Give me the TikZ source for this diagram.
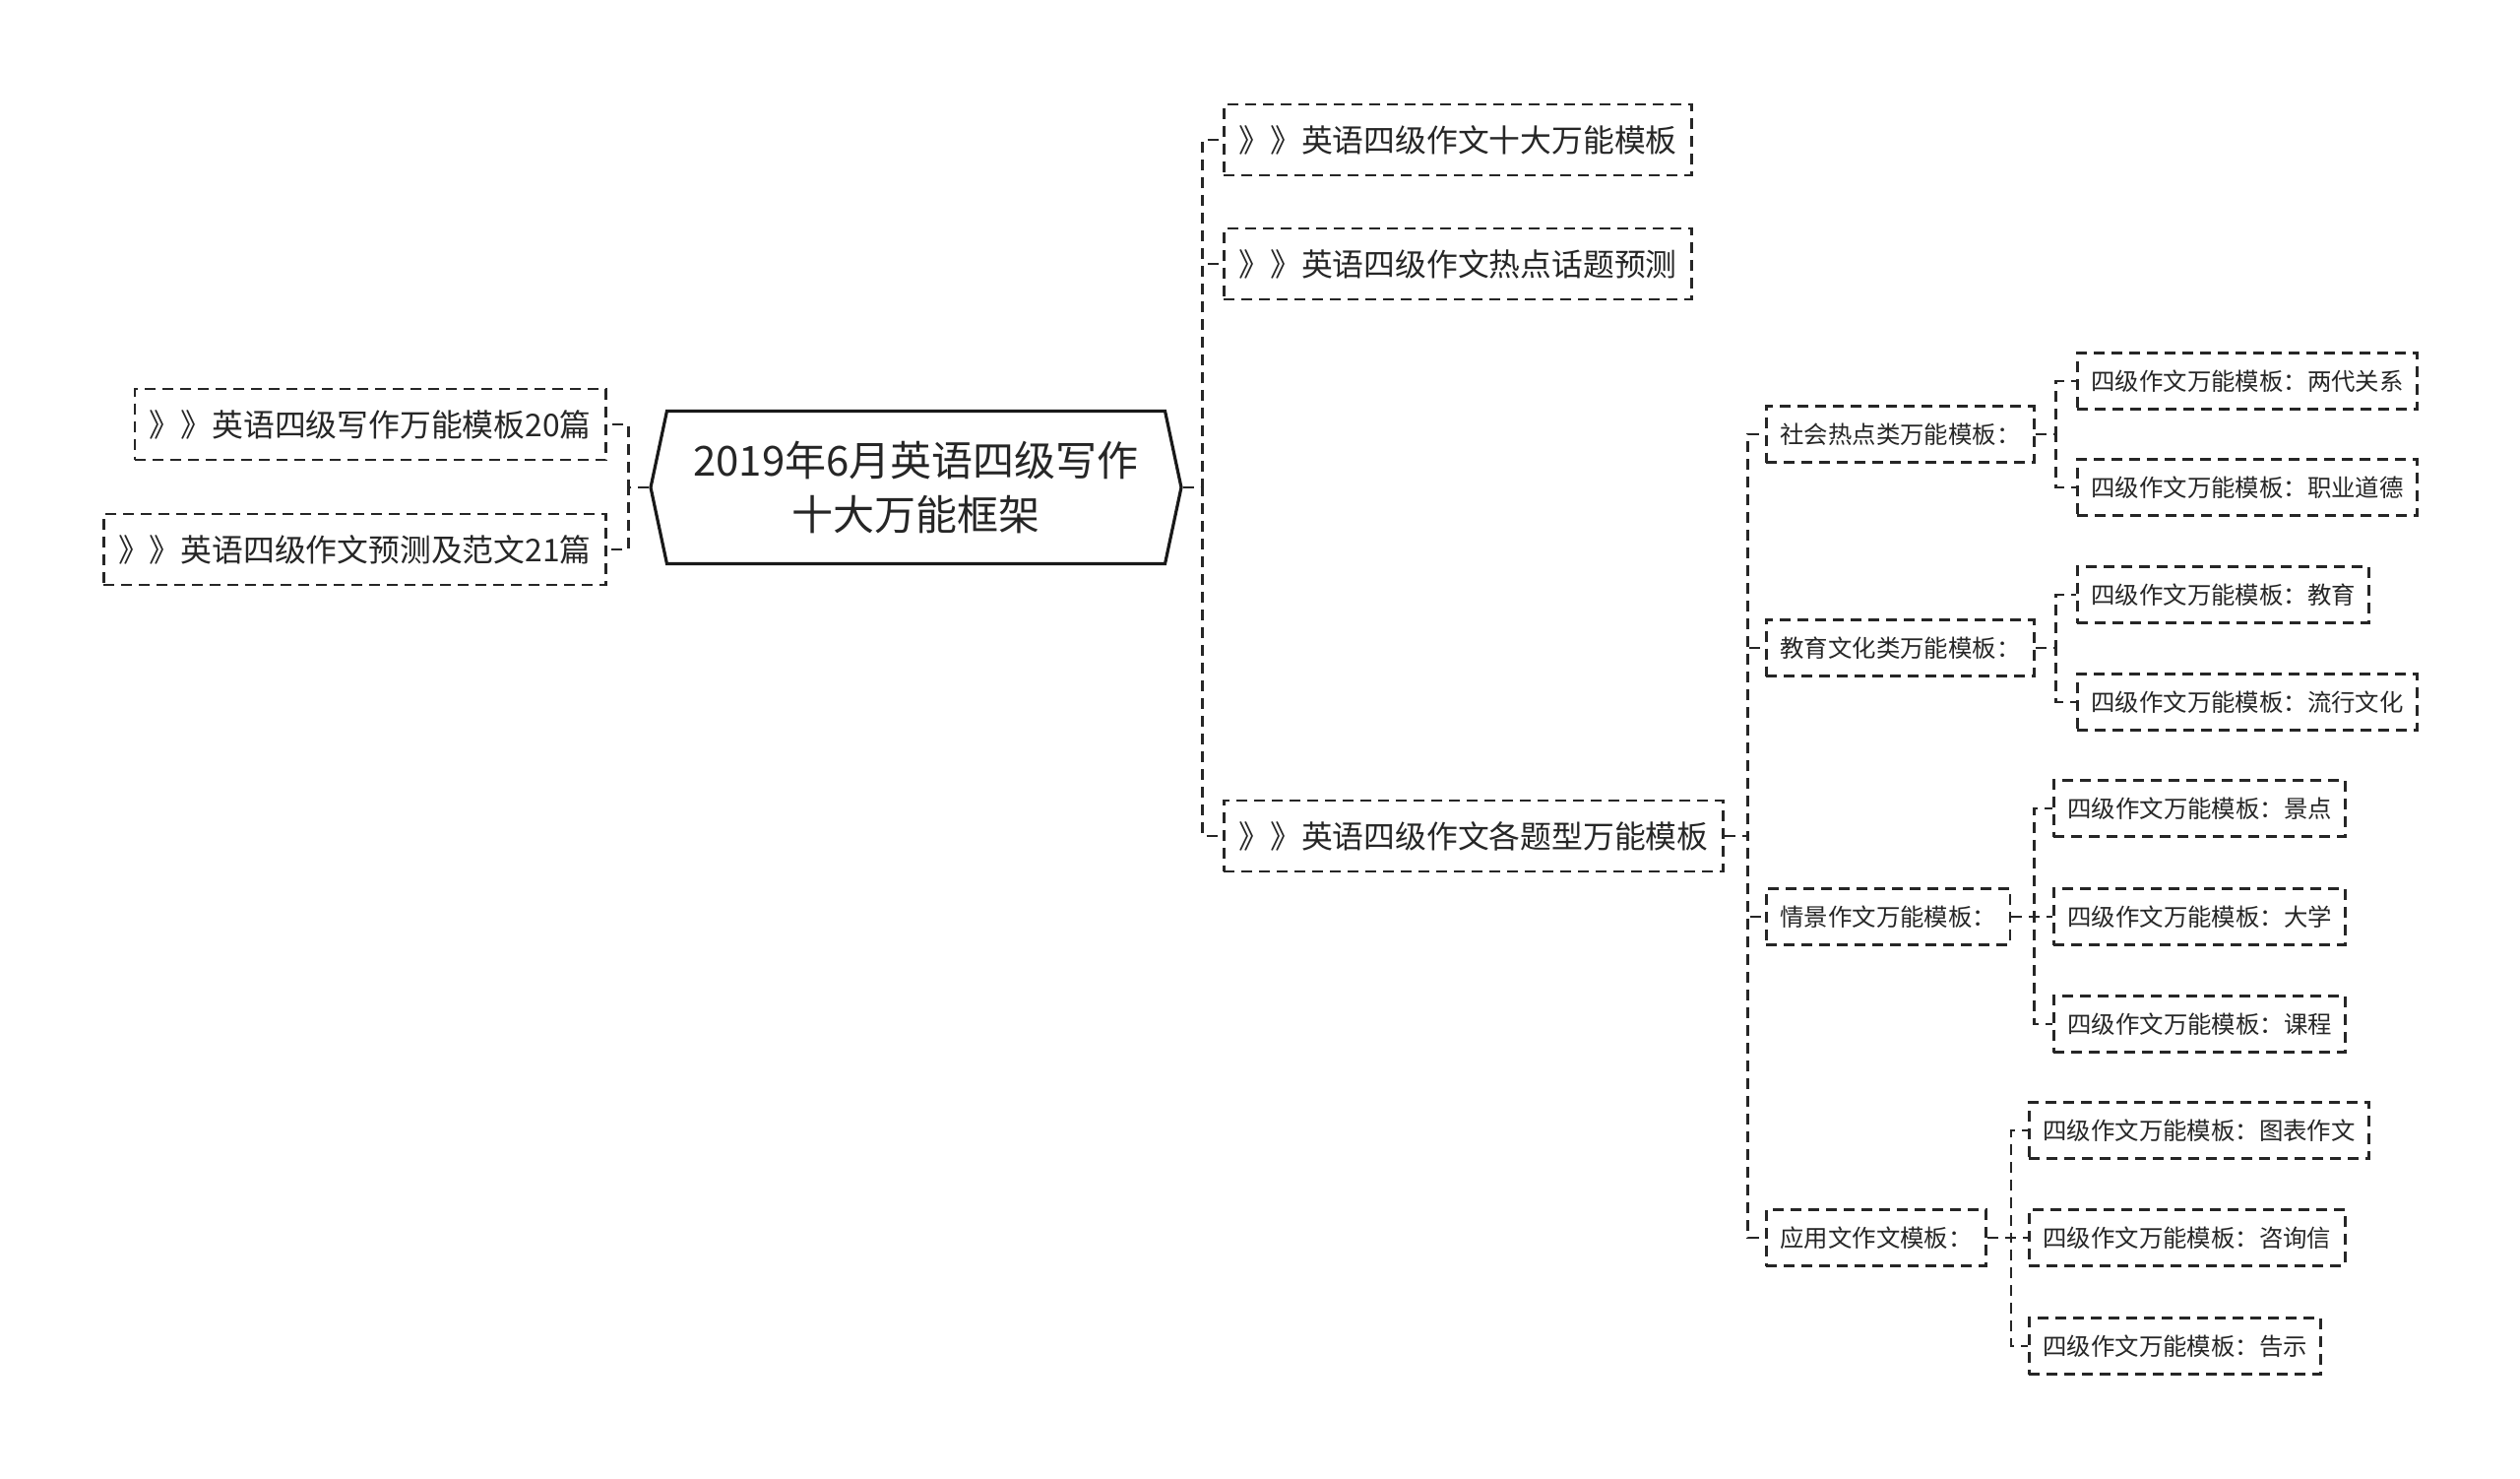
\documentclass[tikz,border=0pt]{standalone}
\usepackage{fontspec}
\setmainfont{Noto Sans CJK SC}
\usetikzlibrary{shapes.symbols}

\begin{document}
\begin{tikzpicture}[x=0.5pt,y=-0.5pt,
  link/.style={draw=black!85,line width=1.4pt,dash pattern=on 5.5pt off 3.5pt},
  hub/.style={signal,signal to=west and east,signal pointer angle=156,draw=black!90,line width=1.6pt,
    align=center,minimum width=269.5pt,minimum height=77.5pt,inner sep=0pt,text=black!85,
    font=\fontsize{21}{27.5}\selectfont},
  topic/.style={link,minimum height=36pt,inner xsep=7.5pt,inner ysep=0pt,text=black!85,
    font=\fontsize{15.9}{18}\selectfont},
  leaf/.style={link,minimum height=28.5pt,inner xsep=7pt,inner ysep=0pt,text=black!85,
    font=\fontsize{12.2}{14}\selectfont}]
\useasboundingbox (0,0) rectangle (2560,1501);

\node[hub] (root) at (930.5,495) {2019年6月英语四级写作\\十大万能框架};

\node[topic,anchor=east] (l1) at (617,431) {》》英语四级写作万能模板20篇};
\node[topic,anchor=east] (l2) at (617,558) {》》英语四级作文预测及范文21篇};
\foreach \n in {l1,l2} \draw[link] (root.west) -- ++(-21,0) |- (\n.east);

\node[topic,anchor=west] (r1) at (1242,142) {》》英语四级作文十大万能模板};
\node[topic,anchor=west] (r2) at (1242,268) {》》英语四级作文热点话题预测};
\node[topic,anchor=west] (r3) at (1242,849) {》》英语四级作文各题型万能模板};
\foreach \n in {r1,r2,r3} \draw[link] (root.east) -- ++(20,0) |- (\n.west);

\node[leaf,anchor=west] (c1) at (1793,441) {社会热点类万能模板：};
\node[leaf,anchor=west] (c2) at (1793,658) {教育文化类万能模板：};
\node[leaf,anchor=west] (c3) at (1793,931) {情景作文万能模板：};
\node[leaf,anchor=west] (c4) at (1793,1257) {应用文作文模板：};
\foreach \n in {c1,c2,c3,c4} \draw[link] (r3.east) -- ++(24,0) |- (\n.west);

\foreach \y/\t [count=\i] in {387/两代关系,495/职业道德} {
  \node[leaf,anchor=west] (a\i) at (2109,\y) {四级作文万能模板：\t};
  \draw[link] (c1.east) -- ++(21,0) |- (a\i.west);
}
\foreach \y/\t [count=\i] in {604/教育,713/流行文化} {
  \node[leaf,anchor=west] (b\i) at (2109,\y) {四级作文万能模板：\t};
  \draw[link] (c2.east) -- ++(21,0) |- (b\i.west);
}
\foreach \y/\t [count=\i] in {821/景点,931/大学,1040/课程} {
  \node[leaf,anchor=west] (d\i) at (2085,\y) {四级作文万能模板：\t};
  \draw[link] (c3.east) -- ++(23,0) |- (d\i.west);
}
\foreach \y/\t [count=\i] in {1148/图表作文,1257/咨询信,1367/告示} {
  \node[leaf,anchor=west] (e\i) at (2060,\y) {四级作文万能模板：\t};
  \draw[link] (c4.east) -- ++(24,0) |- (e\i.west);
}
\end{tikzpicture}
\end{document}
